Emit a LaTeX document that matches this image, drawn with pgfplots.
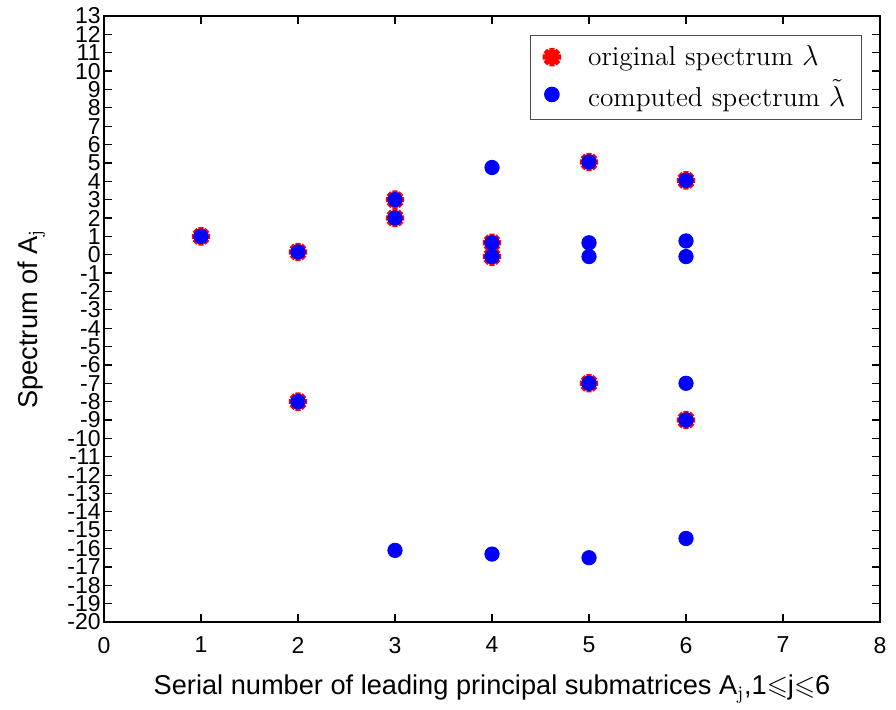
\documentclass[border=0pt]{standalone}
\usepackage{amssymb}
\usepackage{fontspec}
\usepackage{pgfplots}
\pgfplotsset{compat=1.18}
\newfontfamily\arialfont{Liberation Sans}
\pgfdeclareplotmark{ast8}{%
  \pgfpathmoveto{\pgfqpoint{-\pgfplotmarksize}{0pt}}\pgfpathlineto{\pgfqpoint{\pgfplotmarksize}{0pt}}%
  \pgfpathmoveto{\pgfqpoint{0pt}{-\pgfplotmarksize}}\pgfpathlineto{\pgfqpoint{0pt}{\pgfplotmarksize}}%
  \pgfpathmoveto{\pgfqpoint{-0.7071\pgfplotmarksize}{-0.7071\pgfplotmarksize}}\pgfpathlineto{\pgfqpoint{0.7071\pgfplotmarksize}{0.7071\pgfplotmarksize}}%
  \pgfpathmoveto{\pgfqpoint{-0.7071\pgfplotmarksize}{0.7071\pgfplotmarksize}}\pgfpathlineto{\pgfqpoint{0.7071\pgfplotmarksize}{-0.7071\pgfplotmarksize}}%
  \pgfusepathqstroke}
\begin{document}
\begin{tikzpicture}
\begin{axis}[
  name=main,
  scale only axis,
  width=388pt, height=303pt,
  xmin=0, xmax=8, ymin=-20, ymax=13,
  xtick={0,...,8}, ytick={-20,...,13},
  tick align=inside,
  major tick length=4pt,
  axis line style={line width=0.6pt},
  tick style={line width=0.6pt, black},
  /pgf/number format/assume math mode=true,
  ticklabel style={font=\arialfont\fontsize{11.5}{11.5}\selectfont},
  yticklabel style={inner xsep=1.5pt, inner ysep=0pt},
  xticklabel style={yshift=-4pt},
  label style={font=\arialfont\fontsize{13.6}{14}\selectfont},
  xlabel={Serial number of leading principal submatrices A$_{\mathrm{j}}$,1$\leqslant$j$\leqslant$6},
  xlabel style={yshift=-4pt},
  ylabel={Spectrum of A$_{\mathrm{j}}$},
  ylabel style={yshift=6pt},
  legend style={at={(1,1)}, anchor=north east, xshift=-9pt, yshift=-9.5pt,
    font=\fontsize{13.7}{16}\selectfont,
    draw=black!70, line width=0.6pt, inner xsep=6pt, inner ysep=3pt, row sep=1.5pt, column sep=11.5pt},
  legend cell align=left,
]
\addplot[only marks, mark=ast8, mark size=4.6pt, color=red, line width=2.6pt] coordinates {
(1,1)
(2,0.15) (2,-8)
(3,3) (3,2)
(4,0.65) (4,-0.1)
(5,5.05) (5,-7)
(6,4.05) (6,-9)
};
\addlegendentry{original spectrum $\lambda$}
\addplot[only marks, mark=*, mark size=3.6pt, color=blue, mark options={draw=blue, fill=blue}] coordinates {
(1,1)
(2,0.15) (2,-8)
(3,3) (3,2) (3,-16.1)
(4,4.75) (4,0.65) (4,-0.1) (4,-16.3)
(5,5.05) (5,0.65) (5,-0.1) (5,-7) (5,-16.5)
(6,4.05) (6,0.75) (6,-0.1) (6,-7) (6,-9) (6,-15.45)
};
\addlegendentry{computed spectrum $\tilde{\lambda}$}
\end{axis}
\path ([shift={(-52pt,-41pt)}]main.south west) rectangle ([shift={(8pt,8pt)}]main.north east);
\end{tikzpicture}
\end{document}
